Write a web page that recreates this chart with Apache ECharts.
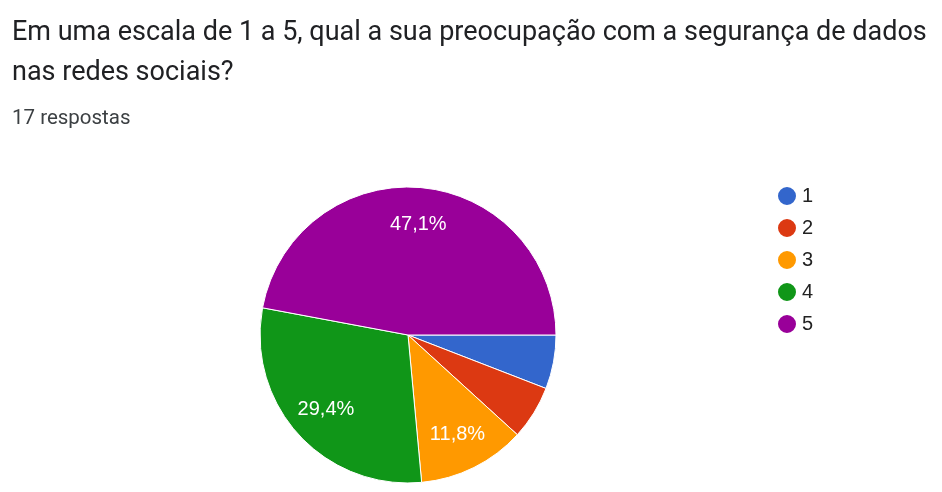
<!DOCTYPE html>
<html style="height: 100%">
  <head>
    <meta charset="utf-8">
    <script src="https://cdn.jsdelivr.net/npm/echarts@6/dist/echarts.min.js"></script>
  </head>
  <body style="height: 100%; margin: 0; overflow: hidden; background: #fff;">
    <div id="container" style="width: 942px; height: 492px;"></div>
    <script>
      var categories = ['1', '2', '3', '4', '5'];
      var counts = [1, 1, 2, 5, 8];
      var colors = ['#3366cc', '#dc3912', '#ff9900', '#109618', '#990099'];
      var total = 17;

      var pieData = categories.map(function (c, i) {
        return { name: c, value: counts[i], itemStyle: { color: colors[i] } };
      });

      function pct(v) {
        return (v / total * 100).toFixed(1).replace('.', ',') + '%';
      }

      var chart = echarts.init(document.getElementById('container'));
      chart.setOption({
        animation: false,
        title: [
          {
            text: 'Em uma escala de 1 a 5, qual a sua preocupação com a segurança de dados\nnas redes sociais?',
            left: 7, top: 8,
            textStyle: { fontFamily: 'Roboto', fontSize: 27, fontWeight: 'normal', color: '#202124', lineHeight: 40 }
          },
          {
            text: '17 respostas',
            left: 7, top: 103,
            textStyle: { fontFamily: 'Roboto', fontSize: 20.5, fontWeight: 'normal', color: '#3c4043' }
          }
        ],
        legend: {
          orient: 'vertical',
          left: 771, top: 180,
          icon: 'circle',
          itemWidth: 20, itemHeight: 20,
          itemGap: 10,
          data: categories,
          textStyle: { fontFamily: 'Liberation Sans', fontSize: 20, color: '#222', lineHeight: 20 }
        },
        series: [
          {
            type: 'pie',
            center: [408, 335],
            radius: [0, 148],
            startAngle: 0,
            clockwise: true,
            data: pieData,
            label: { show: false },
            labelLine: { show: false },
            itemStyle: { borderColor: '#fff', borderWidth: 1 },
            emphasis: { disabled: true }
          },
          {
            type: 'pie',
            center: [408, 335],
            radius: [68, 148],
            startAngle: 0,
            clockwise: true,
            silent: true,
            data: pieData.map(function (d) {
              return { name: d.name, value: d.value, itemStyle: { color: 'rgba(0,0,0,0)' },
                       label: { show: d.value / total > 0.08 } };
            }),
            label: {
              position: 'inside',
              formatter: function (p) { return pct(p.value); },
              fontFamily: 'Liberation Sans', fontSize: 20, color: '#fff'
            },
            labelLine: { show: false },
            emphasis: { disabled: true }
          }
        ]
      });
    </script>
  </body>
</html>
